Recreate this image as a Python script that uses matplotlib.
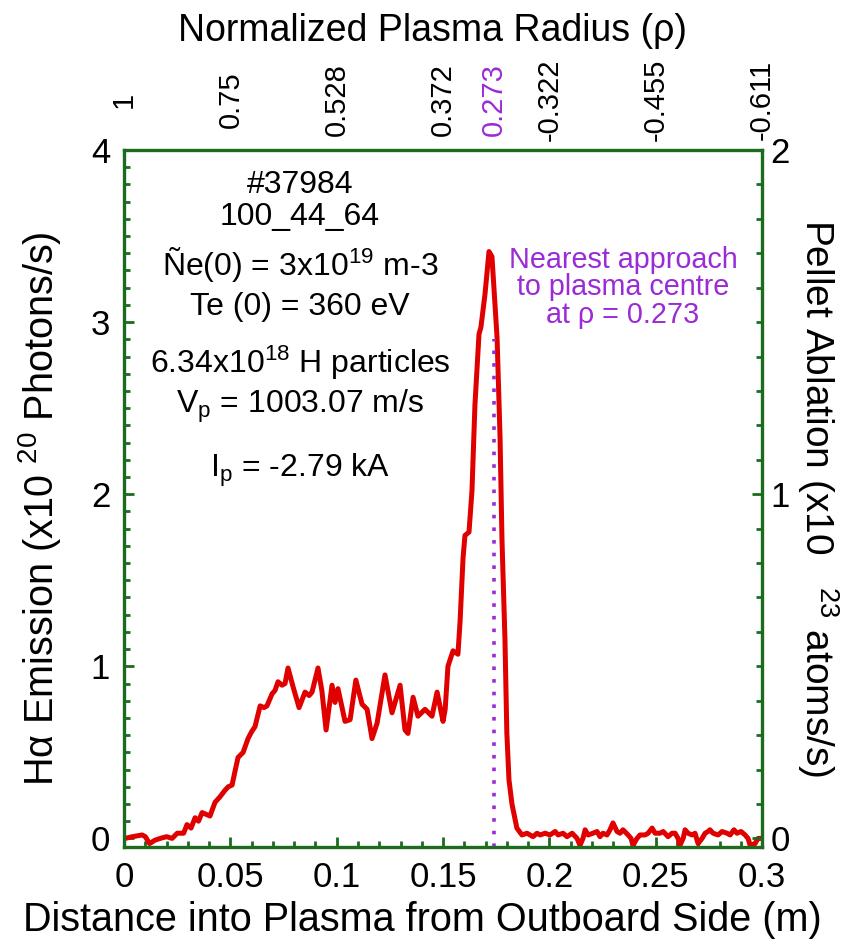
import matplotlib
matplotlib.use('Agg')
import matplotlib.pyplot as plt
from matplotlib.ticker import MultipleLocator, FixedLocator, NullLocator

plt.rcParams['font.family'] = ['Liberation Sans', 'DejaVu Sans']
plt.rcParams['mathtext.fontset'] = 'custom'
plt.rcParams['mathtext.rm'] = 'Liberation Sans'
plt.rcParams['mathtext.it'] = 'Liberation Sans:italic'
plt.rcParams['mathtext.bf'] = 'Liberation Sans:bold'

# ---------------- data ----------------
distance_m = [
    0.0005, 0.0040, 0.0085, 0.0100, 0.0120, 0.0146, 0.0170, 0.0200, 0.0226, 0.0250,
    0.0280, 0.0296, 0.0315, 0.0334, 0.0350, 0.0367, 0.0386, 0.0404, 0.0428, 0.0450,
    0.0475, 0.0490, 0.0508, 0.0520, 0.0536, 0.0560, 0.0583, 0.0600, 0.0616, 0.0640,
    0.0658, 0.0672, 0.0696, 0.0710, 0.0724, 0.0743, 0.0757, 0.0771, 0.0795, 0.0823,
    0.0851, 0.0870, 0.0884, 0.0912, 0.0930, 0.0950, 0.0978, 0.0992, 0.1006, 0.1039,
    0.1063, 0.1090, 0.1119, 0.1143, 0.1166, 0.1190, 0.1227, 0.1260, 0.1298, 0.1321,
    0.1335, 0.1359, 0.1382, 0.1415, 0.1448, 0.1472, 0.1500, 0.1510, 0.1523, 0.1547,
    0.1570, 0.1580, 0.1594, 0.1603, 0.1622, 0.1636, 0.1650, 0.1669, 0.1678, 0.1697,
    0.1716, 0.1730, 0.1744, 0.1754, 0.1768, 0.1777, 0.1791, 0.1800, 0.1810, 0.1824,
    0.1847,
    0.1871, 0.1895, 0.1923, 0.1942, 0.1956, 0.1980, 0.2003, 0.2027, 0.2041, 0.2064,
    0.2083, 0.2107, 0.2130, 0.2144, 0.2158, 0.2168, 0.2182, 0.2205, 0.2224, 0.2238,
    0.2252, 0.2271, 0.2285, 0.2299, 0.2318, 0.2332, 0.2346, 0.2370, 0.2384, 0.2393,
    0.2412, 0.2426, 0.2450, 0.2464, 0.2483, 0.2497, 0.2520, 0.2535, 0.2558, 0.2577,
    0.2591, 0.2605, 0.2614, 0.2629, 0.2638, 0.2652, 0.2671, 0.2685, 0.2699, 0.2718,
    0.2732, 0.2746, 0.2755, 0.2770, 0.2793, 0.2812, 0.2835, 0.2850, 0.2868, 0.2882,
    0.2901, 0.2920, 0.2934, 0.2944, 0.2967, 0.2981, 0.2991,
]
halpha_1e20 = [
    0.00, 0.01, 0.02, 0.01, -0.03, -0.01, 0.00, 0.01, 0.00, 0.03,
    0.03, 0.08, 0.06, 0.12, 0.10, 0.15, 0.14, 0.13, 0.21, 0.24,
    0.28, 0.30, 0.31, 0.38, 0.47, 0.50, 0.58, 0.62, 0.65, 0.77,
    0.76, 0.77, 0.84, 0.86, 0.91, 0.89, 0.90, 0.99, 0.88, 0.76,
    0.85, 0.83, 0.85, 0.99, 0.86, 0.63, 0.89, 0.79, 0.87, 0.68,
    0.69, 0.92, 0.78, 0.75, 0.58, 0.67, 0.95, 0.73, 0.89, 0.63,
    0.61, 0.82, 0.71, 0.75, 0.71, 0.85, 0.68, 0.75, 1.00, 1.09,
    1.07, 1.26, 1.63, 1.76, 1.78, 2.02, 2.52, 2.93, 2.97, 3.16,
    3.41, 3.38, 3.10, 2.91, 2.33, 1.74, 1.16, 0.61, 0.34, 0.20,
    0.06,
    0.02, 0.03, 0.01, 0.03, 0.02, 0.03, 0.02, 0.04, 0.02, 0.03,
    0.01, 0.03, 0.00, -0.04, 0.00, 0.05, 0.02, 0.03, 0.04, 0.01,
    0.03, 0.02, 0.05, 0.09, 0.04, 0.03, 0.05, 0.02, 0.00, -0.04,
    0.00, 0.02, 0.02, 0.03, 0.06, 0.03, 0.03, 0.04, 0.01, 0.03,
    0.03, 0.00, -0.04, 0.00, 0.05, 0.03, 0.02, 0.03, -0.03, 0.00,
    0.03, 0.04, 0.05, 0.03, 0.02, 0.04, 0.03, 0.02, 0.05, 0.03,
    0.04, 0.02, 0.00, -0.04, -0.03, 0.00, 0.00,
]

x_tick_pos = [0.0, 0.05, 0.10, 0.15, 0.20, 0.25, 0.30]
x_tick_labels = ['0', '0.05', '0.1', '0.15', '0.2', '0.25', '0.3']
y_left_ticks = [0, 1, 2, 3, 4]
y_right_ticks = [0, 1, 2]
rho_tick_labels = ['1', '0.75', '0.528', '0.372', '-0.322', '-0.455', '-0.611']
nearest_x = 0.174
nearest_rho_label = '0.273'
nearest_line_top = 2.9

info_lines = [
    '#37984',
    '100_44_64',
    r'Ñe(0) = 3x10$^{19}$ m-3',
    'Te (0) = 360 eV',
    r'6.34x10$^{18}$ H particles',
    r'V$_{\rm p}$ = 1003.07 m/s',
    r'I$_{\rm p}$ = -2.79 kA',
]
info_baseline = [0.938, 0.892, 0.821, 0.763, 0.680, 0.623, 0.531]

# ---------------- style ----------------
GREEN = '#1c6b1f'
RED = '#e00000'
PURPLE = '#9a2bd6'

fig = plt.figure(figsize=(8.65, 9.47), dpi=100)
ax = fig.add_axes([0.1434, 0.1056, 0.7376, 0.7360])

ax.plot(distance_m, halpha_1e20, color=RED, lw=3.6, solid_joinstyle='round')
ax.vlines(nearest_x, -0.05, nearest_line_top, colors=PURPLE, lw=2.6,
          linestyles=[(0, (1, 2.5))])

ax.set_xlim(0, 0.3)
ax.set_ylim(-0.05, 4.0)

for sp in ax.spines.values():
    sp.set_color(GREEN)
    sp.set_linewidth(2.4)

ax.xaxis.set_major_locator(FixedLocator(x_tick_pos))
ax.xaxis.set_minor_locator(MultipleLocator(0.01))
ax.yaxis.set_major_locator(FixedLocator(y_left_ticks))
ax.yaxis.set_minor_locator(MultipleLocator(0.1))
ax.set_xticklabels(x_tick_labels)
ax.set_yticklabels([str(v) for v in y_left_ticks])
ax.tick_params(which='both', direction='in', color=GREEN, width=2.0,
               top=True, right=False, labelsize=25)
ax.tick_params(which='major', length=7)
ax.tick_params(which='minor', length=4)
ax.tick_params(axis='x', pad=10)
ax.tick_params(axis='y', pad=10)

ax.set_xlabel('Distance into Plasma from Outboard Side (m)', fontsize=28.5)
ax.xaxis.set_label_coords(0.467, -0.105)
ax.xaxis.label.set_va('center')
ax.set_ylabel('Hα Emission (x10 $^{20}$ Photons/s)', fontsize=28.5)
ax.yaxis.set_label_coords(-0.132, 0.485)
ax.yaxis.label.set_va('center')

# right axis
axr = ax.twinx()
axr.set_ylim(-0.025, 2.0)
axr.yaxis.set_major_locator(FixedLocator(y_right_ticks))
axr.yaxis.set_minor_locator(MultipleLocator(0.1))
axr.set_yticklabels([str(v) for v in y_right_ticks])
axr.tick_params(which='both', direction='in', color=GREEN, width=2.0,
                labelsize=25, pad=6)
axr.tick_params(which='major', length=7)
axr.tick_params(which='minor', length=4)
for sp in axr.spines.values():
    sp.set_visible(False)
axr.set_ylabel(r'Pellet Ablation (x10   $^{23}$ atoms/s)', fontsize=28, rotation=-90)
axr.yaxis.set_label_coords(1.088, 0.5)
axr.yaxis.label.set_va('center')

# top axis (rho labels)
axt = ax.twiny()
axt.set_xlim(ax.get_xlim())
for sp in axt.spines.values():
    sp.set_visible(False)
axt.xaxis.set_major_locator(FixedLocator(x_tick_pos + [nearest_x]))
axt.xaxis.set_minor_locator(NullLocator())
axt.set_xticklabels(rho_tick_labels + [nearest_rho_label])
axt.tick_params(axis='x', length=0, labelsize=21, pad=36, labelrotation=90)
for lbl in axt.get_xticklabels():
    lbl.set_va('center')
axt.get_xticklabels()[-1].set_color(PURPLE)
axt.set_xlabel('Normalized Plasma Radius (ρ)', fontsize=27)
axt.xaxis.set_label_coords(0.483, 1.171)
axt.xaxis.label.set_va('center')

# annotation text
for txt, yy in zip(info_lines, info_baseline):
    ax.text(0.276, yy, txt, transform=ax.transAxes, ha='center', va='baseline',
            fontsize=23)

ax.text(0.782, 0.803, 'Nearest approach\nto plasma centre\nat ρ = 0.273',
        transform=ax.transAxes, ha='center', va='center', fontsize=20.7,
        color=PURPLE, linespacing=0.98)

fig.savefig('out.png', dpi=100)
